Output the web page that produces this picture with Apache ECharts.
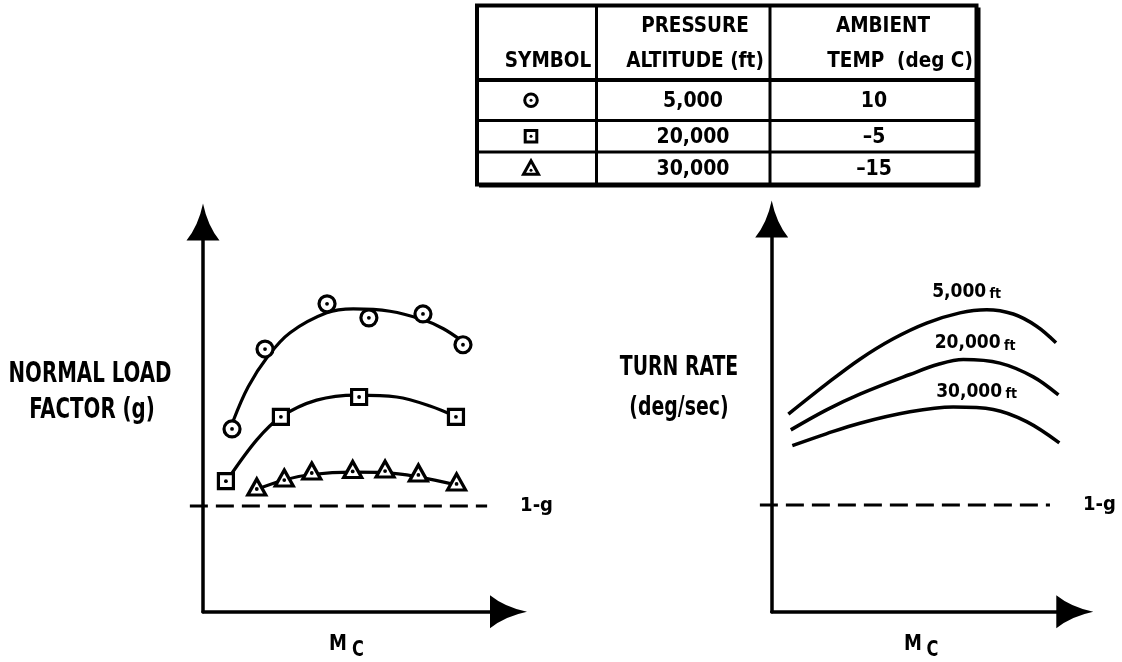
<!DOCTYPE html>
<html><head><meta charset="utf-8">
<script src="https://cdn.jsdelivr.net/npm/echarts@6/dist/echarts.min.js"></script>
<style>html,body{margin:0;padding:0;background:#fff}#c{width:1122px;height:662px}</style>
</head><body><div id="c"></div>
<script>
// ---------- Table data ----------
const tableHeaders = [['SYMBOL'], ['PRESSURE', 'ALTITUDE (ft)'], ['AMBIENT', 'TEMP  (deg C)']];
const altitudes = ['5,000', '20,000', '30,000'];
const ambientTemps = ['10', '–5', '–15'];

// ---------- Left panel: normal load factor vs Mc (unscaled axes, arbitrary units) ----------
const circlePoints = [[0.95,4.69],[2.03,6.74],[4.06,7.90],[5.43,7.54],[7.20,7.64],[8.51,6.85]];
const circleFit = [[0.98,4.88],[1.48,5.77],[2.13,6.56],[2.85,7.16],[4.05,7.67],[4.92,7.77],[6.12,7.71],[7.21,7.49],[7.87,7.26],[8.47,6.95]];
const squarePoints = [[0.75,3.35],[2.55,5.00],[5.11,5.51],[8.28,5.00]];
const squareFit = [[0.83,3.42],[1.76,4.41],[2.55,5.00],[3.72,5.43],[5.03,5.56],[6.34,5.51],[7.43,5.28],[8.30,5.00]];
const trianglePoints = [[1.76,3.20],[2.66,3.43],[3.56,3.61],[4.90,3.65],[5.96,3.66],[7.05,3.56],[8.30,3.33]];
const triangleFit = [[1.76,3.14],[2.66,3.38],[3.56,3.52],[4.90,3.58],[5.96,3.57],[7.05,3.46],[8.30,3.25]];
const oneGLeft = [[-0.43,2.71],[9.30,2.71]];

// ---------- Right panel: turn rate vs Mc ----------
const turn5000 = [[0.55,5.03],[1.81,5.80],[2.91,6.43],[4.01,6.95],[5.11,7.35],[6.21,7.61],[7.09,7.69],[7.97,7.58],[8.74,7.27],[9.38,6.85]];
const turn20000 = [[0.63,4.63],[1.81,5.14],[2.91,5.54],[4.56,6.04],[5.50,6.30],[6.32,6.42],[7.53,6.33],[8.63,5.98],[9.46,5.52]];
const turn30000 = [[0.68,4.23],[1.80,4.53],[2.91,4.80],[4.56,5.09],[5.99,5.21],[7.31,5.15],[8.41,4.84],[9.49,4.30]];
const oneGRight = [[-0.39,2.72],[9.18,2.72]];
const curveLabels = ['5,000', '20,000', '30,000'];

// ---------- Styling ----------
const FONT = '"DejaVu Sans Condensed", "Liberation Sans Narrow", sans-serif';
const BLACK = '#000';
const ARROW = 'path://M16.5,0 Q21,22 33,37 L0,37 Q12,22 16.5,0 Z';
const SMOOTH = 0.35;

function axis(gridIndex) {
  return {
    type: 'value', gridIndex, min: 0, max: 10,
    axisLine: { show: true, onZero: false, symbol: ['none', ARROW], symbolSize: [33, 37],
      lineStyle: { color: BLACK, width: 3.5 } },
    axisTick: { show: false }, axisLabel: { show: false }, splitLine: { show: false }
  };
}
function fitLine(data, gi, w) {
  return { type: 'line', xAxisIndex: gi, yAxisIndex: gi, data, smooth: SMOOTH, showSymbol: false,
    lineStyle: { color: BLACK, width: w || 3.2 }, z: 2, silent: true };
}
function markers(data, symbol, size) {
  return [
    { type: 'scatter', xAxisIndex: 0, yAxisIndex: 0, data, symbol, symbolSize: size,
      itemStyle: { color: '#fff', borderColor: BLACK, borderWidth: 3.2, opacity: 1 }, z: 3, silent: true },
    { type: 'scatter', xAxisIndex: 0, yAxisIndex: 0, data, symbol: 'circle', symbolSize: 3.8,
      symbolOffset: symbol === 'triangle' ? [0, 2] : [0, 0],
      itemStyle: { color: BLACK, opacity: 1 }, z: 4, silent: true }
  ];
}
// 1-g reference line: a custom series so the dashes may run past the vertical axis
function oneG(pts, gi) {
  return {
    type: 'custom', xAxisIndex: gi, yAxisIndex: gi, silent: true, clip: false, z: 2,
    encode: { x: [0, 1], y: 2 },
    data: [[pts[0][0], pts[1][0], pts[0][1]]],
    renderItem(params, api) {
      const a = api.coord([api.value(0), api.value(2)]);
      const b = api.coord([api.value(1), api.value(2)]);
      return { type: 'group', children: [
        { type: 'line', shape: { x1: a[0], y1: a[1], x2: b[0], y2: b[1] },
          style: { stroke: BLACK, lineWidth: 3, lineDash: [18, 8] } },
        { type: 'text', style: { text: '1-g', x: b[0] + 33, y: b[1], fill: BLACK, fontSize: 20,
          fontWeight: 'bold', fontFamily: FONT, align: 'left', verticalAlign: 'middle' } }
      ] };
    }
  };
}

// ---------- Graphic helpers ----------
function txt(text, x, y, size, sy, extra) {
  return { type: 'text', x, y, scaleY: sy || 1, z: 50,
    style: Object.assign({ text, x: 0, y: 0, fill: BLACK, fontSize: size, fontWeight: 'bold',
      fontFamily: FONT, align: 'center', verticalAlign: 'middle' }, extra || {}) };
}

// ---------- Table graphic ----------
const T = { x0: 477, x1: 976.5, y0: 5.5, y1: 184.5, c1: 596.5, c2: 770, r1: 80, r2: 120.5, r3: 152 };
const g = [];
g.push({ type: 'rect', shape: { x: T.x0, y: T.y0, width: T.x1 - T.x0, height: T.y1 - T.y0 },
  style: { fill: '#fff', stroke: BLACK, lineWidth: 4 } });
g.push({ type: 'line', shape: { x1: T.x1 + 2, y1: T.y0 + 2, x2: T.x1 + 2, y2: T.y1 + 2 }, style: { stroke: BLACK, lineWidth: 4 } });
g.push({ type: 'line', shape: { x1: T.x0 + 2, y1: T.y1 + 1.5, x2: T.x1 + 3, y2: T.y1 + 1.5 }, style: { stroke: BLACK, lineWidth: 3 } });
[T.c1, T.c2].forEach(x => g.push({ type: 'line', shape: { x1: x, y1: T.y0, x2: x, y2: T.y1 }, style: { stroke: BLACK, lineWidth: 3 } }));
[[T.r1, 4], [T.r2, 3], [T.r3, 3]].forEach(([y, w]) => g.push({ type: 'line', shape: { x1: T.x0, y1: y, x2: T.x1, y2: y }, style: { stroke: BLACK, lineWidth: w } }));

const headerCenters = [[548], [695, 695], [883, 900]];
const headerLineY = [27, 62];
tableHeaders.forEach((lines, ci) => {
  const ys = lines.length === 1 ? [headerLineY[1]] : headerLineY;
  lines.forEach((t, li) => g.push(txt(t, headerCenters[ci][li], ys[li], 20.5)));
});
const rowY = [(T.r1 + T.r2) / 2, (T.r2 + T.r3) / 2, (T.r3 + T.y1) / 2];
altitudes.forEach((a, i) => g.push(txt(a, 693, rowY[i] + 1, 21)));
ambientTemps.forEach((a, i) => g.push(txt(a, 874, rowY[i] + 1, 21)));
const sx = 531;
g.push({ type: 'circle', shape: { cx: sx, cy: rowY[0], r: 6.3 }, style: { fill: '#fff', stroke: BLACK, lineWidth: 3 } });
g.push({ type: 'circle', shape: { cx: sx, cy: rowY[0], r: 1.5 }, style: { fill: BLACK } });
g.push({ type: 'rect', shape: { x: sx - 5.8, y: rowY[1] - 5.8, width: 11.6, height: 11.6 }, style: { fill: '#fff', stroke: BLACK, lineWidth: 3 } });
g.push({ type: 'circle', shape: { cx: sx, cy: rowY[1], r: 1.5 }, style: { fill: BLACK } });
g.push({ type: 'polygon', shape: { points: [[sx, rowY[2] - 7.5], [sx + 7.5, rowY[2] + 6], [sx - 7.5, rowY[2] + 6]] }, style: { fill: '#fff', stroke: BLACK, lineWidth: 3 } });
g.push({ type: 'circle', shape: { cx: sx, cy: rowY[2] + 2, r: 1.5 }, style: { fill: BLACK } });

// Axis titles
g.push(txt('NORMAL LOAD', 90, 375, 22, 1.25));
g.push(txt('FACTOR (g)', 92, 411, 22, 1.25));
g.push(txt('TURN RATE', 679, 368, 21, 1.28));
g.push(txt('(deg/sec)', 679, 408, 21, 1.28));
g.push(txt('M', 338, 644, 20, 1.1));
g.push(txt('C', 358, 650.5, 18, 1.15));
g.push(txt('M', 913, 644, 20, 1.1));
g.push(txt('C', 932.5, 650.5, 18, 1.15));

const option = {
  backgroundColor: '#fff',
  animation: false,
  grid: [
    { left: 203, top: 222, width: 305.5, height: 389.7 },
    { left: 771.7, top: 219, width: 303.1, height: 392.7 }
  ],
  xAxis: [axis(0), axis(1)],
  yAxis: [axis(0), axis(1)],
  series: [
    fitLine(circleFit, 0), fitLine(squareFit, 0), fitLine(triangleFit, 0),
    ...markers(circlePoints, 'circle', 16),
    ...markers(squarePoints, 'rect', 15),
    ...markers(trianglePoints, 'triangle', [18, 16]),
    oneG(oneGLeft, 0),
    fitLine(turn5000, 1, 3.5), fitLine(turn20000, 1, 3.5), fitLine(turn30000, 1, 3.5),
    oneG(oneGRight, 1)
  ]
};
const chart = echarts.init(document.getElementById('c'), null, { renderer: 'canvas' });
chart.setOption(option);

// Curve labels for the turn-rate panel, placed in data coordinates through the grid's scales
const labelAnchors = [[6.43, 8.15], [6.71, 6.83], [6.76, 5.60]];
const rich = {
  n: { fontSize: 19, fontWeight: 'bold', fontFamily: FONT, fill: BLACK },
  f: { fontSize: 14, fontWeight: 'bold', fontFamily: FONT, fill: BLACK, verticalAlign: 'bottom', padding: [3, 0, 0, 0] }
};
curveLabels.forEach((lbl, i) => {
  const p = chart.convertToPixel({ gridIndex: 1 }, labelAnchors[i]);
  g.push({ type: 'text', x: p[0], y: p[1], z: 50,
    style: { text: '{n|' + lbl + '} {f|ft}', x: 0, y: 0, align: 'center', verticalAlign: 'middle', rich } });
});
chart.setOption({ graphic: g });
</script></body></html>
